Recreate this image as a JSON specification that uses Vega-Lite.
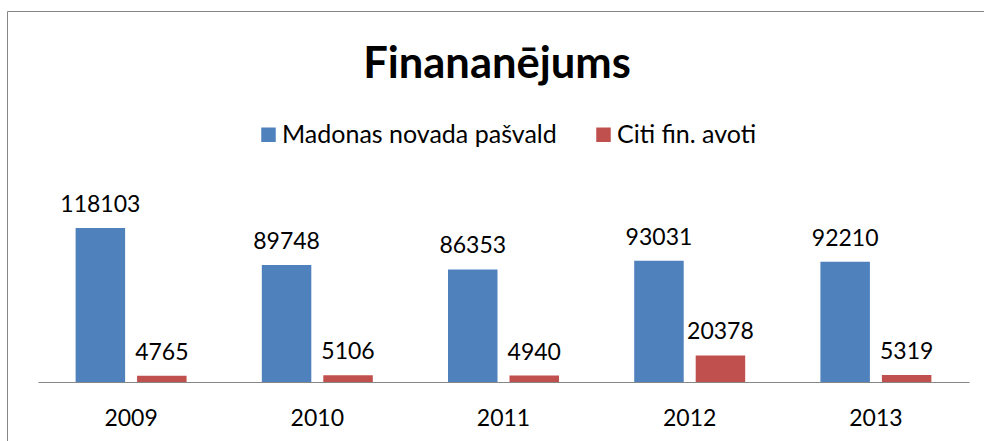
{
  "$schema": "https://vega.github.io/schema/vega-lite/v6.json",
  "autosize": "none",
  "width": 1000,
  "height": 450,
  "padding": {"left": 7, "top": 11, "right": -23, "bottom": -20},
  "background": "white",
  "title": {
    "text": "Finananējums",
    "orient": "top",
    "anchor": "middle",
    "frame": "group",
    "offset": -110,
    "baseline": "alphabetic",
    "font": "Lato",
    "fontSize": 43.5,
    "fontWeight": "bold",
    "dx": -10,
    "color": "#000000"
  },
  "data": {
    "values": [
      {"year": "2009", "series": "Madonas novada pašvald", "value": 118103},
      {"year": "2009", "series": "Citi fin. avoti", "value": 4765},
      {"year": "2010", "series": "Madonas novada pašvald", "value": 89748},
      {"year": "2010", "series": "Citi fin. avoti", "value": 5106},
      {"year": "2011", "series": "Madonas novada pašvald", "value": 86353},
      {"year": "2011", "series": "Citi fin. avoti", "value": 4940},
      {"year": "2012", "series": "Madonas novada pašvald", "value": 93031},
      {"year": "2012", "series": "Citi fin. avoti", "value": 20378},
      {"year": "2013", "series": "Madonas novada pašvald", "value": 92210},
      {"year": "2013", "series": "Citi fin. avoti", "value": 5319}
    ]
  },
  "encoding": {
    "x": {
      "field": "year",
      "type": "nominal",
      "scale": {"range": [31, 962], "paddingInner": 0.404, "paddingOuter": 0.202},
      "axis": {
        "title": null,
        "orient": "bottom",
        "offset": -79,
        "labelAngle": 0,
        "ticks": false,
        "labelPadding": 25,
        "labelFont": "Lato",
        "labelFontSize": 23,
        "labelColor": "#000000",
        "domainColor": "#868686",
        "domainWidth": 1,
        "grid": false
      }
    },
    "xOffset": {
      "field": "series",
      "type": "nominal",
      "sort": ["Madonas novada pašvald", "Citi fin. avoti"],
      "scale": {"paddingInner": 0.195, "paddingOuter": 0}
    },
    "y": {
      "field": "value",
      "type": "quantitative",
      "scale": {"domain": [-60587, 284531], "nice": false, "zero": false},
      "axis": null
    }
  },
  "layer": [
    {
      "mark": {"type": "bar"},
      "encoding": {
        "color": {
          "field": "series",
          "type": "nominal",
          "sort": ["Madonas novada pašvald", "Citi fin. avoti"],
          "scale": {"domain": ["Madonas novada pašvald", "Citi fin. avoti"], "range": ["#4F81BD", "#C0504D"]},
          "legend": {
            "title": null,
            "orient": "none",
            "legendX": 249,
            "legendY": 111,
            "direction": "horizontal",
            "symbolType": "square",
            "symbolSize": 210,
            "symbolStrokeWidth": 0,
            "labelFont": "Lato",
            "labelFontSize": 25,
            "labelColor": "#000000",
            "labelLimit": 0,
            "labelOffset": 1,
            "columnPadding": 34
          }
        }
      }
    },
    {
      "mark": {"type": "text", "dy": -16, "baseline": "alphabetic", "align": "center", "font": "Lato", "fontSize": 23, "color": "#000000"},
      "encoding": {
        "text": {"field": "value", "type": "quantitative", "format": "d"}
      }
    }
  ],
  "config": {
    "view": {"stroke": "#868686", "strokeWidth": 1}
  }
}
